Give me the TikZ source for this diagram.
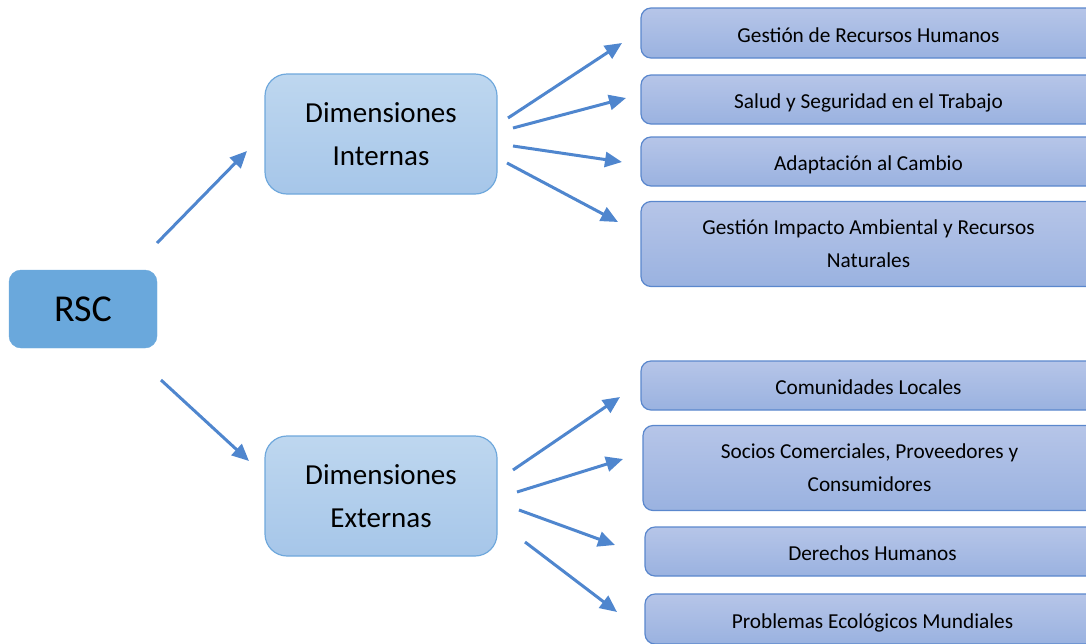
\documentclass[tikz,border=0pt]{standalone}
\usepackage{fontspec}
\setmainfont{Carlito}
\usetikzlibrary{arrows.meta}
\definecolor{rscfill}{RGB}{106,168,220}
\definecolor{dimtop}{RGB}{190,215,239}
\definecolor{dimbot}{RGB}{166,198,233}
\definecolor{dimline}{RGB}{111,168,220}
\definecolor{rtop}{RGB}{182,197,232}
\definecolor{rbot}{RGB}{154,178,224}
\definecolor{rline}{RGB}{90,135,205}
\definecolor{arrcol}{RGB}{79,134,206}
\tikzset{
  rscbox/.style={draw=rscfill, fill=rscfill, rounded corners=12pt, minimum width=148pt, minimum height=78pt, inner sep=0pt, font=\fontsize{38}{40}\selectfont},
  dimbox/.style={draw=dimline, line width=1.2pt, top color=dimtop, bottom color=dimbot, rounded corners=22pt, minimum width=232pt, minimum height=120pt, inner sep=0pt, align=center, font=\fontsize{29}{43.5}\selectfont},
  itembox/.style={draw=rline, line width=1.2pt, top color=rtop, bottom color=rbot, rounded corners=10pt, minimum width=455pt, inner sep=0pt, align=center, font=\fontsize{21.3}{33}\selectfont},
  oneline/.style={text height=18pt, text depth=0pt},
  arr/.style={draw=arrcol, line width=3pt, -{Triangle[length=17pt,width=15pt]}, arrcol}
}
\begin{document}
\begin{tikzpicture}[x=1pt,y=-1pt]
\useasboundingbox (0,0) rectangle (1086,643);
\clip (0,0) rectangle (1086,643);
\node[rscbox] (rsc) at (83,309) {RSC};
\node[dimbox] (di) at (381,134) {Dimensiones\\Internas};
\node[dimbox] (de) at (381,496) {Dimensiones\\Externas};
\node[itembox, oneline, minimum height=50pt] (r1) at (868.5,33) {Gestión de Recursos Humanos};
\node[itembox, oneline, minimum height=49pt] (r2) at (868.5,99.5) {Salud y Seguridad en el Trabajo};
\node[itembox, oneline, minimum height=49pt] (r3) at (868.5,161.5) {Adaptación al Cambio};
\node[itembox, minimum height=85pt] (r4) at (868.5,244) {Gestión Impacto Ambiental y Recursos\\Naturales};
\node[itembox, oneline, minimum height=49pt] (r5) at (868.5,385.5) {Comunidades Locales};
\node[itembox, minimum height=85pt, minimum width=453pt] (r6) at (869.5,468) {Socios Comerciales, Proveedores y\\Consumidores};
\node[itembox, oneline, minimum height=49pt] (r7) at (872.5,551.5) {Derechos Humanos};
\node[itembox, oneline, minimum height=50pt] (r8) at (872.5,619) {Problemas Ecológicos Mundiales};
% connector end points
\coordinate (s1) at (157,243); \coordinate (e1) at (247,151);
\coordinate (s2) at (161,380); \coordinate (e2) at (249,461);
\coordinate (si1) at (508,118); \coordinate (ei1) at (622,43);
\coordinate (si2) at (513,128); \coordinate (ei2) at (626,98);
\coordinate (si3) at (513,146); \coordinate (ei3) at (622,162);
\coordinate (si4) at (507,163); \coordinate (ei4) at (618,222);
\coordinate (se1) at (513,470); \coordinate (ee1) at (620,397);
\coordinate (se2) at (517,492); \coordinate (ee2) at (623,459);
\coordinate (se3) at (519,510); \coordinate (ee3) at (615,545);
\coordinate (se4) at (525,542); \coordinate (ee4) at (617,612);
\draw[arr] (s1) -- (e1);
\draw[arr] (s2) -- (e2);
\draw[arr] (si1) -- (ei1);
\draw[arr] (si2) -- (ei2);
\draw[arr] (si3) -- (ei3);
\draw[arr] (si4) -- (ei4);
\draw[arr] (se1) -- (ee1);
\draw[arr] (se2) -- (ee2);
\draw[arr] (se3) -- (ee3);
\draw[arr] (se4) -- (ee4);
\end{tikzpicture}
\end{document}
